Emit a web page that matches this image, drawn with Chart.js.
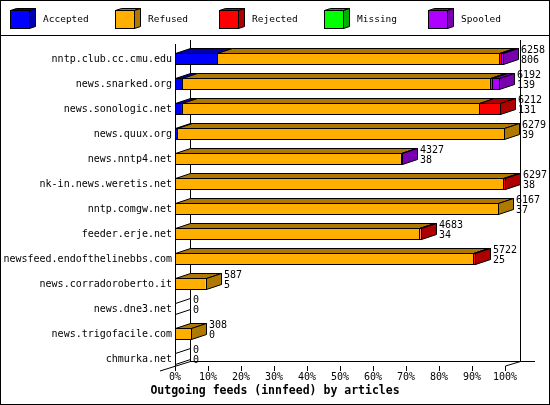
<!DOCTYPE html>
<html>
<head>
<meta charset="utf-8">
<script src="https://cdn.jsdelivr.net/npm/chart.js@4.4.1/dist/chart.umd.min.js"></script>
<style>
  html, body { margin: 0; padding: 0; background: #fff; }
  canvas { display: block; }
</style>
</head>
<body>
<canvas id="feeds" width="550" height="405"></canvas>
<script>
// innfeed outgoing feeds, bar lengths in % of the largest feed
const hosts = [
  "nntp.club.cc.cmu.edu", "news.snarked.org", "news.sonologic.net", "news.quux.org",
  "news.nntp4.net", "nk-in.news.weretis.net", "nntp.comgw.net", "feeder.erje.net",
  "newsfeed.endofthelinebbs.com", "news.corradoroberto.it", "news.dne3.net",
  "news.trigofacile.com", "chmurka.net"
];
const offeredCounts  = [6258, 6192, 6212, 6279, 4327, 6297, 6167, 4683, 5722, 587, 0, 308, 0];
const acceptedCounts = [806, 139, 131, 39, 38, 38, 37, 34, 25, 5, 0, 0, 0];

const accepted = [12.8, 2.2, 2.1, 0.6, 0, 0, 0, 0, 0, 0, 0, 0, 0];
const refused  = [85.4, 93.2, 90.1, 99.1, 68.4, 99.5, 97.9, 74.0, 90.4, 9.3, 0, 4.9, 0];
const rejected = [0.6, 0.6, 6.4, 0, 0, 0.5, 0, 0.4, 0.5, 0, 0, 0, 0];
const missing  = [0, 0, 0, 0, 0, 0, 0, 0, 0, 0, 0, 0, 0];
const spooled  = [0.6, 2.3, 0, 0, 0.3, 0, 0, 0, 0, 0, 0, 0, 0];

const seriesNames = ["Accepted", "Refused", "Rejected", "Missing", "Spooled"];
const xTickLabels = ["0%", "10%", "20%", "30%", "40%", "50%", "60%", "70%", "80%", "90%", "100%"];
const chartTitle = "Outgoing feeds (innfeed) by articles";

const frontColors = ["#0000ff", "#ffaf00", "#ff0000", "#00ff00", "#af00ff"];
const sideColors  = ["#0000af", "#af7800", "#af0000", "#00af00", "#7800af"];

const MONO = "'DejaVu Sans Mono', monospace";
const DX = 15, DY = -5;

function poly(ctx, pts, fill) {
  ctx.beginPath();
  ctx.moveTo(pts[0][0], pts[0][1]);
  for (let k = 1; k < pts.length; k++) ctx.lineTo(pts[k][0], pts[k][1]);
  ctx.closePath();
  if (fill) { ctx.fillStyle = fill; ctx.fill(); }
  ctx.stroke();
}
function seg(ctx, x1, y1, x2, y2) {
  ctx.beginPath(); ctx.moveTo(x1, y1); ctx.lineTo(x2, y2); ctx.stroke();
}

// pieces of each row, read from the bar elements
function rowPieces(chart, i) {
  const out = [];
  chart.data.datasets.forEach((ds, d) => {
    const el = chart.getDatasetMeta(d).data[i];
    const p = el.getProps(["x", "base", "y"], true);
    if (p.x - p.base > 0.05) out.push({ a: Math.round(p.base) + 0.5, b: Math.round(p.x) + 0.5, d });
  });
  return out;
}

const depth = {
  id: "depth",
  beforeDraw(chart) {
    const ctx = chart.ctx;
    ctx.save();
    ctx.fillStyle = "#fff";
    ctx.fillRect(0, 0, chart.width, chart.height);
    ctx.restore();
  },
  beforeDatasetsDraw(chart) {
    const { ctx, chartArea, scales: { x, y } } = chart;
    const xL = Math.round(x.getPixelForValue(0)), xR = Math.round(x.getPixelForValue(100));
    const floorF = Math.round(chartArea.bottom) + 7, floorB = floorF + DY;
    const top = Math.round(chartArea.top);
    ctx.save();
    ctx.lineWidth = 1;
    ctx.strokeStyle = "#000";
    // walls and floor
    seg(ctx, xL + DX + 0.5, top - 19, xL + DX + 0.5, floorB + 0.5);
    seg(ctx, xR + DX + 0.5, top - 19, xR + DX + 0.5, floorB + 0.5);
    seg(ctx, xL + DX, floorB + 0.5, xR + 2 * DX, floorB + 0.5);
    seg(ctx, xL - DX, floorF + 5, xL + DX + 0.5, floorB + 0.5);
    seg(ctx, xR + 0.5, floorF, xR + DX + 0.5, floorB + 0.5);
    seg(ctx, xL + 0.5, top - 15, xL + 0.5, floorF);
    x.ticks.forEach((t) => {
      const px = Math.round(x.getPixelForValue(t.value)) + 0.5;
      seg(ctx, px, floorF, px, floorF + 5);
    });
    // top and side faces
    hosts.forEach((h, i) => {
      const yc = Math.round(y.getPixelForValue(i));
      const T = yc - 6 + 0.5, B = yc + 5 + 0.5;
      const pieces = rowPieces(chart, i);
      if (!pieces.length) {
        const a = xL + 0.5;
        poly(ctx, [[a, T], [a + DX, T + DY], [a + DX, B + DY], [a, B]], "#fff");
        return;
      }
      pieces.forEach((p) => {
        poly(ctx, [[p.a, T], [p.b, T], [p.b + DX, T + DY], [p.a + DX, T + DY]], sideColors[p.d]);
      });
      const last = pieces[pieces.length - 1];
      poly(ctx, [[last.b, T], [last.b + DX, T + DY], [last.b + DX, B + DY], [last.b, B]], sideColors[last.d]);
    });
    ctx.restore();
  },
  afterDatasetsDraw(chart) {
    const { ctx, scales: { x, y } } = chart;
    const xL = Math.round(x.getPixelForValue(0));
    ctx.save();
    ctx.lineWidth = 1;
    ctx.strokeStyle = "#000";
    ctx.fillStyle = "#000";
    ctx.font = "10px " + MONO;
    ctx.textBaseline = "middle";
    ctx.textAlign = "left";
    hosts.forEach((h, i) => {
      const yc = Math.round(y.getPixelForValue(i));
      const T = yc - 6 + 0.5, B = yc + 5 + 0.5;
      const pieces = rowPieces(chart, i);
      pieces.forEach((p) => ctx.strokeRect(p.a, T, p.b - p.a, B - T));
      const end = pieces.length ? pieces[pieces.length - 1].b - 0.5 : xL;
      ctx.fillText(String(offeredCounts[i]), end + DX + 3, yc - 9);
      ctx.fillText(String(acceptedCounts[i]), end + DX + 3, yc + 1);
    });
    ctx.restore();
  },
  afterDraw(chart) {
    const ctx = chart.ctx;
    ctx.save();
    ctx.lineWidth = 1;
    ctx.strokeStyle = "#000";
    // legend
    ctx.font = "9.5px " + MONO;
    ctx.textBaseline = "middle";
    ctx.textAlign = "left";
    chart.data.datasets.forEach((ds, d) => {
      const x0 = Math.round(10 + d * 104.6);
      ctx.fillStyle = frontColors[d];
      ctx.fillRect(x0, 10, 20, 19);
      ctx.strokeRect(x0 + 0.5, 10.5, 19, 18);
      poly(ctx, [[x0 + 0.5, 10.5], [x0 + 6.5, 8.5], [x0 + 25.5, 8.5], [x0 + 19.5, 10.5]], sideColors[d]);
      poly(ctx, [[x0 + 19.5, 10.5], [x0 + 25.5, 8.5], [x0 + 25.5, 26.5], [x0 + 19.5, 28.5]], sideColors[d]);
      ctx.fillStyle = "#000";
      ctx.fillText(ds.label, x0 + 33, 20);
    });
    seg(ctx, 0, 35.5, chart.width, 35.5);
    // x title
    ctx.font = "bold 11.5px " + MONO;
    ctx.textAlign = "center";
    ctx.fillText(chartTitle, chart.width / 2, 391);
    ctx.strokeRect(0.5, 0.5, chart.width - 1, chart.height - 1);
    ctx.restore();
  }
};

Chart.defaults.font.family = MONO;
Chart.defaults.font.size = 10;
Chart.defaults.color = "#000";

const seriesValues = [accepted, refused, rejected, missing, spooled];

new Chart(document.getElementById("feeds"), {
  type: "bar",
  data: {
    labels: hosts,
    datasets: seriesNames.map((name, d) => ({
      label: name,
      data: seriesValues[d],
      backgroundColor: frontColors[d],
      borderWidth: 0,
      barThickness: 12,
      inflateAmount: 0,
      clip: false
    }))
  },
  options: {
    indexAxis: "y",
    responsive: false,
    devicePixelRatio: 1,
    animation: false,
    layout: { padding: { top: 59, right: 45, bottom: 0, left: 0 } },
    plugins: { legend: { display: false }, title: { display: false }, tooltip: { enabled: false } },
    scales: {
      x: {
        stacked: true, min: 0, max: 100,
        grid: { display: false, drawTicks: false }, border: { display: false },
        ticks: { stepSize: 10, padding: 12, maxRotation: 0, autoSkip: false,
                 callback: (v, i) => xTickLabels[i] },
        afterFit: (s) => { s.height = 46; }
      },
      y: {
        stacked: true, offset: false,
        grid: { display: false, drawTicks: false }, border: { display: false },
        ticks: { autoSkip: false, padding: 3 },
        afterFit: (s) => { s.width = 175; }
      }
    }
  },
  plugins: [depth]
});
</script>
</body>
</html>
